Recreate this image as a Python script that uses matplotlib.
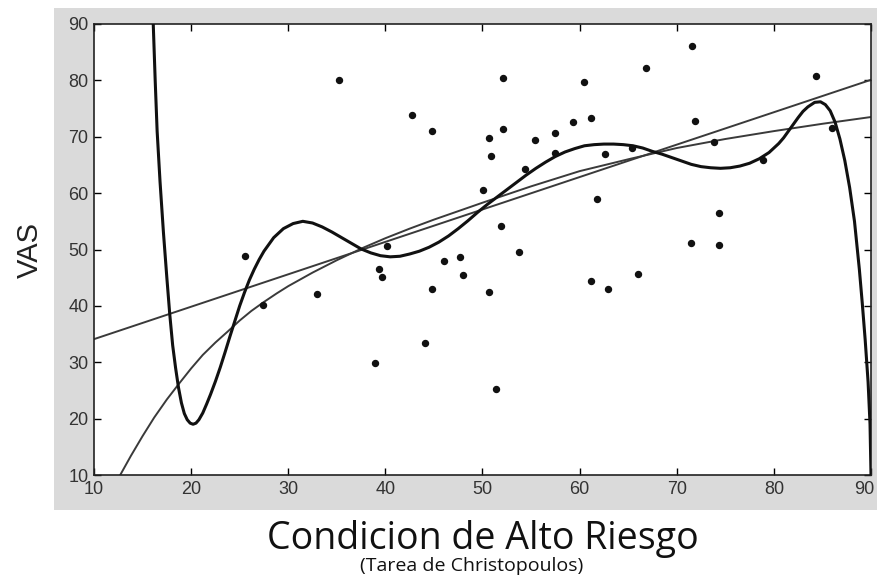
import matplotlib.pyplot as plt
from matplotlib.patches import Rectangle
from matplotlib.transforms import ScaledTranslation

plt.rcParams['font.family'] = ['Liberation Sans', 'DejaVu Sans']

# puntos (Condicion de Alto Riesgo vs VAS)
pts_x = [35.2, 42.7, 44.8, 25.5, 27.4, 33.0, 39.3, 39.7, 40.2, 38.9, 44.1, 44.8,
         46.0, 47.7, 48.0, 50.7, 51.4, 53.8, 50.1, 51.9, 50.9, 50.7, 52.1, 52.1,
         54.4, 55.4, 57.5, 57.5, 59.3, 60.5, 61.2, 61.8, 61.2, 62.9, 62.6, 66.0,
         65.4, 66.8, 71.6, 71.9, 73.8, 74.3, 71.5, 74.4, 78.9, 84.3, 86.0]
pts_y = [80.1, 73.9, 71.0, 48.9, 40.2, 42.1, 46.6, 45.2, 50.6, 29.8, 33.5, 43.0,
         47.9, 48.7, 45.5, 42.5, 25.3, 49.5, 60.5, 54.2, 66.5, 69.8, 71.4, 80.5,
         64.3, 69.4, 70.7, 67.1, 72.6, 79.7, 73.4, 59.0, 44.4, 43.0, 67.0, 45.6,
         68.0, 82.2, 86.1, 72.8, 69.1, 56.5, 51.1, 50.8, 65.9, 80.8, 71.6]

# ajuste lineal
lin_x = [10, 90]
lin_y = [34.1, 80.1]

# ajuste curvo (concavo)
curv_x = [12.7, 13.8, 15.0, 16.2, 17.5, 18.8, 20.0, 21.2, 22.5, 23.8, 25.0, 26.2,
          27.5, 28.8, 30.0, 32.5, 35.0, 37.7, 40.0, 42.5, 45.0, 47.5, 50.0, 55.0,
          60.0, 65.0, 70.0, 75.0, 80.0, 85.0, 90.0]
curv_y = [10.0, 13.4, 16.9, 20.2, 23.4, 26.3, 28.9, 31.3, 33.5, 35.5, 37.4, 39.1,
          40.7, 42.2, 43.5, 45.9, 48.1, 50.3, 52.0, 53.7, 55.3, 56.8, 58.3, 61.2,
          63.9, 66.0, 68.0, 69.6, 71.0, 72.3, 73.5]

# ajuste polinomico de grado alto
poly_x = [16.1, 16.3, 16.5, 16.8, 17.15, 17.5, 17.8, 18.1, 18.4, 18.7, 19.0, 19.3,
          19.6, 19.9, 20.2, 20.5, 20.8, 21.2, 21.6, 22.0, 22.5, 23.0, 23.5, 24.0,
          24.5, 25.0, 25.5, 26.0, 26.5, 27.0, 27.5, 28.5, 29.5, 30.5, 31.5, 32.5,
          33.5, 34.5, 35.5, 36.5, 37.5, 38.5, 39.5, 40.5, 41.5, 42.5, 43.5, 44.5,
          45.5, 46.5, 47.5, 48.5, 49.5, 50.5, 51.5, 52.5, 53.5, 54.5, 55.5, 56.5,
          57.5, 58.5, 59.5, 60.5, 61.5, 62.5, 63.5, 64.5, 65.5, 66.5, 67.5, 68.5,
          69.5, 70.5, 71.5, 72.5, 73.5, 74.5, 75.5, 76.5, 77.5, 78.5, 79.5, 80.5,
          81.0, 81.5, 82.0, 82.5, 83.0, 83.5, 84.2, 84.8, 85.3, 85.8, 86.3, 86.8,
          87.3, 87.8, 88.3, 88.8, 89.1, 89.4, 89.7, 89.9, 90.0]
poly_y = [90.0, 80.0, 71.0, 62.0, 53.0, 45.0, 38.5, 33.0, 29.0, 25.5, 22.8, 20.9,
          19.8, 19.2, 19.0, 19.2, 19.8, 21.0, 22.6, 24.3, 26.6, 29.1, 31.8, 34.6,
          37.3, 40.0, 42.4, 44.6, 46.5, 48.2, 49.7, 52.1, 53.7, 54.6, 55.0, 54.7,
          54.0, 53.1, 52.1, 51.1, 50.1, 49.4, 48.9, 48.7, 48.8, 49.2, 49.7, 50.4,
          51.3, 52.4, 53.7, 55.1, 56.6, 58.0, 59.3, 60.6, 61.9, 63.2, 64.4, 65.5,
          66.5, 67.3, 67.9, 68.4, 68.6, 68.7, 68.7, 68.6, 68.4, 68.0, 67.4, 66.9,
          66.3, 65.7, 65.1, 64.7, 64.5, 64.4, 64.5, 64.8, 65.3, 66.1, 67.2, 68.8,
          69.8, 71.0, 72.2, 73.4, 74.5, 75.3, 76.1, 76.2, 75.7, 74.6, 72.6, 69.6,
          65.8, 61.0, 55.0, 46.5, 40.5, 34.0, 26.5, 19.0, 10.0]

xticks = [10, 20, 30, 40, 50, 60, 70, 80, 90]
yticks = [10, 20, 30, 40, 50, 60, 70, 80, 90]

fig = plt.figure(figsize=(8.78, 5.84), dpi=100)
fig.patch.set_facecolor('white')
# fondo gris del escaneo
bg = Rectangle((54 / 878, 74 / 584), 1 - 54 / 878, 502 / 584,
               transform=fig.transFigure, facecolor='#dadada',
               edgecolor='none', zorder=-10)
fig.add_artist(bg)

ax = fig.add_axes([94 / 878, 109 / 584, 777 / 878, 451 / 584])
ax.set_facecolor('white')

ax.plot(lin_x, lin_y, color='#3a3a3a', lw=1.4, zorder=2)
ax.plot(curv_x, curv_y, color='#3a3a3a', lw=1.4, zorder=2)
ax.plot(poly_x, poly_y, color='#111111', lw=2.2, zorder=3,
        solid_joinstyle='round')
ax.plot(pts_x, pts_y, 'o', color='#111111', ms=4.3, zorder=4)

ax.set_xlim(10, 90)
ax.set_ylim(10, 90)
ax.set_xticks(xticks)
ax.set_yticks(yticks)
ax.tick_params(direction='in', length=5, width=1, top=True, right=True,
               labelsize=13, labelcolor='#333333', pad=4)
for s in ax.spines.values():
    s.set_linewidth(1.2)
    s.set_color('#222222')

# el "90" del eje x queda pegado al borde: correrlo un poco a la izquierda
last = ax.get_xticklabels()[-1]
last.set_transform(last.get_transform() + ScaledTranslation(-7 / 100, 0, fig.dpi_scale_trans))

fig.text(30 / 878, 1 - 250 / 584, 'VAS', rotation=90, fontsize=21,
         ha='center', va='center', color='#222222')
fig.text(483 / 878, 1 - 539 / 584, 'Condicion de Alto Riesgo', fontsize=27,
         ha='center', va='center', color='#111111', family=['Open Sans', 'DejaVu Sans'])
fig.text(472 / 878, 1 - 566 / 584, '(Tarea de Christopoulos)', fontsize=14,
         ha='center', va='center', color='#111111', family=['Open Sans', 'DejaVu Sans'])

fig.savefig('out.png', dpi=100)
